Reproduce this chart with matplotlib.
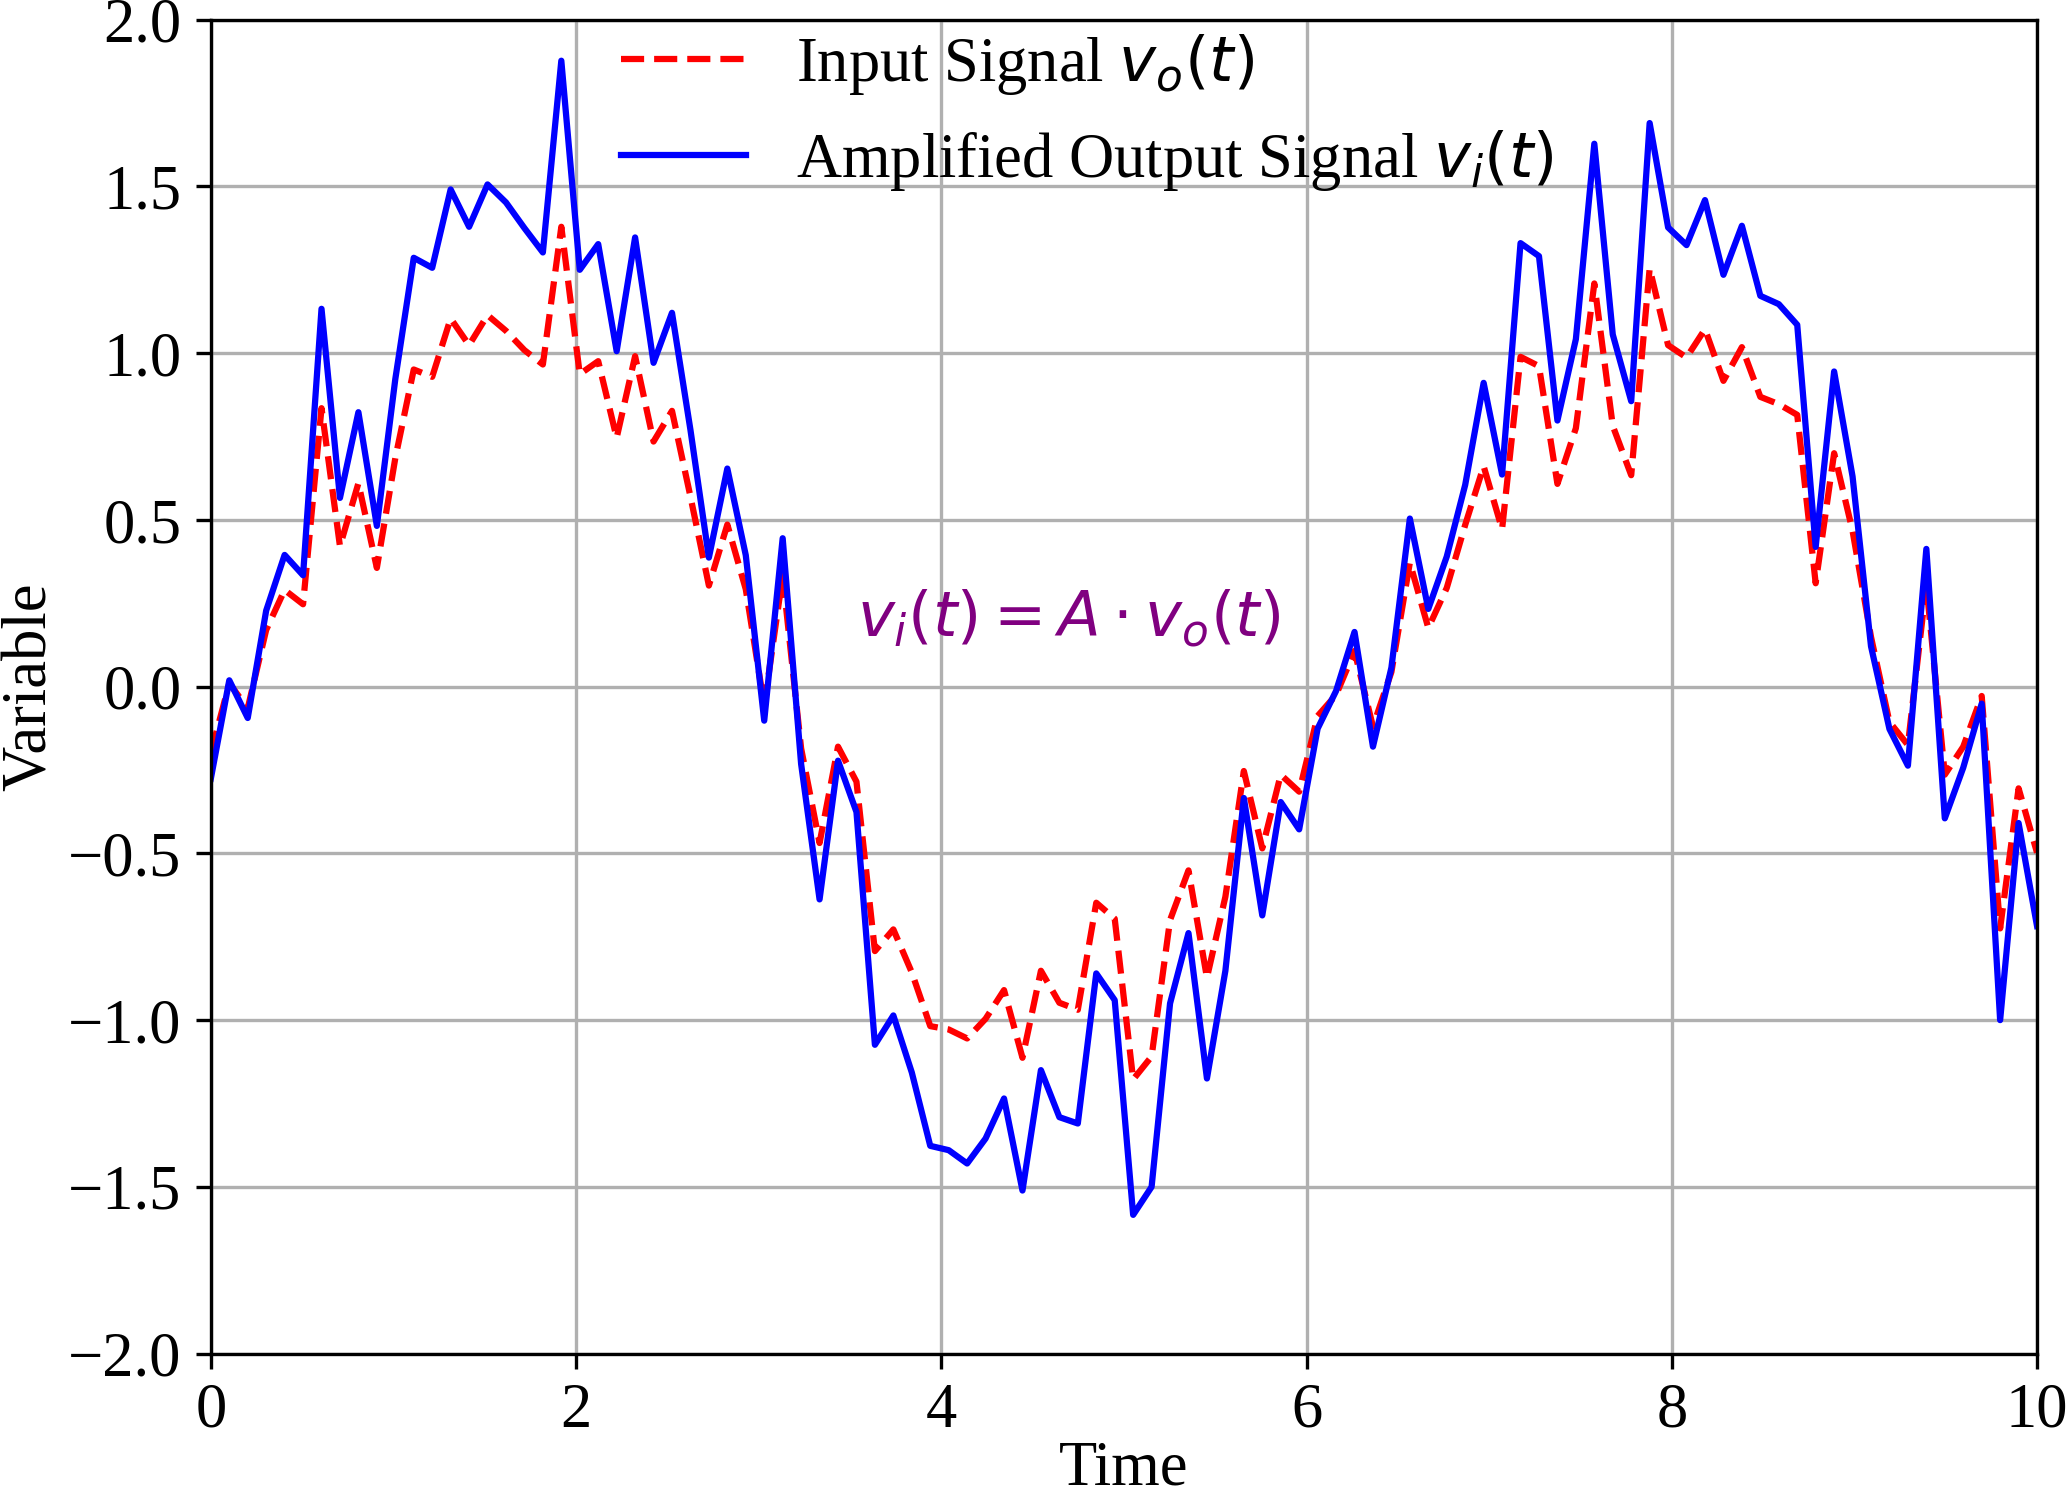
import numpy as np
import matplotlib
matplotlib.use('Agg')
import matplotlib.pyplot as plt

# time axis: 100 samples over 0..10
t = np.linspace(0, 10, 100)

# input signal v_o(t)
v_in = [-0.20, 0.01, -0.065, 0.17, 0.29, 0.247, 0.835, 0.421, 0.61, 0.356,
        0.685, 0.951, 0.929, 1.104, 1.024, 1.114, 1.067, 1.009, 0.966, 1.379,
        0.937, 0.976, 0.746, 0.991, 0.735, 0.827, 0.57, 0.303, 0.486, 0.292,
        -0.057, 0.333, -0.185, -0.469, -0.18, -0.285, -0.793, -0.728, -0.857, -1.018,
        -1.028, -1.055, -0.996, -0.91, -1.113, -0.852, -0.948, -0.969, -0.648, -0.696,
        -1.178, -1.109, -0.70, -0.551, -0.873, -0.63, -0.253, -0.485, -0.264, -0.315,
        -0.088, -0.025, 0.107, -0.12, 0.044, 0.372, 0.176, 0.296, 0.485, 0.661,
        0.472, 0.989, 0.961, 0.608, 0.775, 1.209, 0.782, 0.634, 1.254, 1.024,
        0.987, 1.072, 0.917, 1.018, 0.869, 0.847, 0.815, 0.31, 0.70, 0.467,
        0.149, -0.106, -0.175, 0.307, -0.264, -0.18, -0.028, -0.725, -0.305, -0.498]

# amplified output v_i(t)
v_out = [-0.276, 0.019, -0.094, 0.228, 0.395, 0.334, 1.133, 0.566, 0.823, 0.482,
         0.922, 1.286, 1.256, 1.491, 1.379, 1.506, 1.452, 1.375, 1.302, 1.877,
         1.25, 1.327, 1.006, 1.347, 0.971, 1.121, 0.77, 0.387, 0.654, 0.394,
         -0.102, 0.445, -0.232, -0.638, -0.222, -0.376, -1.074, -0.986, -1.157, -1.377,
         -1.39, -1.43, -1.355, -1.235, -1.511, -1.15, -1.291, -1.31, -0.86, -0.94,
         -1.584, -1.5, -0.95, -0.739, -1.175, -0.852, -0.334, -0.686, -0.346, -0.428,
         -0.126, -0.013, 0.164, -0.18, 0.057, 0.504, 0.233, 0.39, 0.605, 0.911,
         0.636, 1.33, 1.291, 0.798, 1.042, 1.628, 1.056, 0.856, 1.69, 1.377,
         1.324, 1.459, 1.235, 1.382, 1.172, 1.147, 1.085, 0.419, 0.945, 0.63,
         0.121, -0.127, -0.237, 0.413, -0.395, -0.243, -0.051, -1.0, -0.409, -0.718]

xticks = [0, 2, 4, 6, 8, 10]
yticks = [-2.0, -1.5, -1.0, -0.5, 0.0, 0.5, 1.0, 1.5, 2.0]

plt.rcParams['font.family'] = ['Liberation Serif', 'DejaVu Serif']
plt.rcParams['mathtext.fontset'] = 'dejavusans'
plt.rcParams['font.size'] = 15

fig = plt.figure(figsize=(6.89, 4.997), dpi=300)
ax = fig.add_axes([0.102, 0.097, 0.8835, 0.8898])

ax.plot(t, v_in, 'r--', linewidth=1.5, label=r'Input Signal $v_o(t)$')
ax.plot(t, v_out, 'b-', linewidth=1.5, label=r'Amplified Output Signal $v_i(t)$')

ax.text(3.54, 0.2, r'$v_i(t) = A \cdot v_o(t)$', color='purple',
        fontsize=15, ha='left', va='center')

ax.set_xlim(0, 10)
ax.set_ylim(-2, 2)
ax.set_xticks(xticks)
ax.set_yticks(yticks)
ax.set_xlabel('Time', labelpad=0)
ax.set_ylabel('Variable', labelpad=2)
ax.grid(True)
ax.legend(loc='upper left', bbox_to_anchor=(0.194, 1.033), frameon=False)

fig.savefig('out.png', dpi=300)
